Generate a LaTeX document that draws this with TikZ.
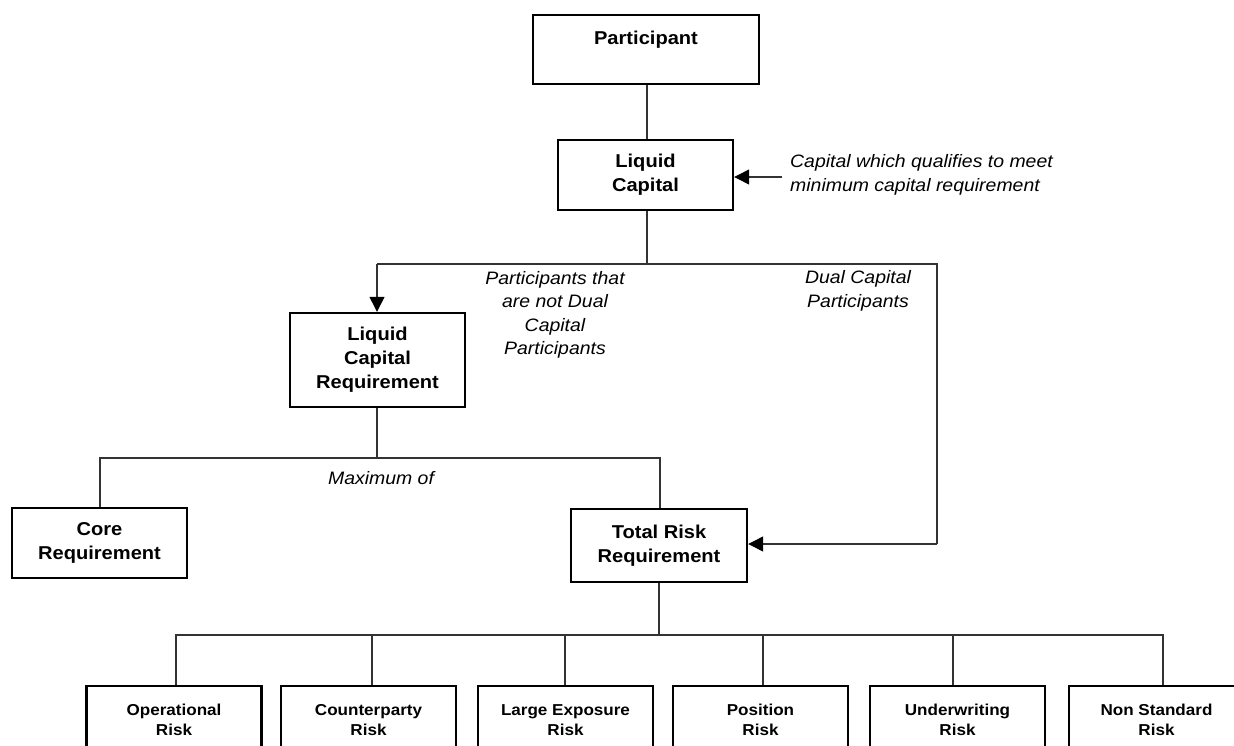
\documentclass[tikz,border=0pt]{standalone}
\usepackage{fontspec}
\setmainfont[FakeStretch=1.08]{Liberation Sans}
\usetikzlibrary{arrows.meta}
\begin{document}
\begin{tikzpicture}[x=1pt,y=-1pt,
  box/.style={draw=black,line width=2.4pt,minimum width=175pt,align=center,inner sep=0pt,
    font=\fontsize{18.6}{24}\selectfont\bfseries},
  smallbox/.style={box,minimum height=68pt,font=\fontsize{15.8}{20}\selectfont\bfseries},
  conn/.style={draw=black!80,line width=1.3pt},
  arr/.style={conn,-{Triangle[length=15pt,width=15pt,color=black]}},
  note/.style={font=\fontsize{18}{23.5}\selectfont\itshape,align=center,inner sep=0pt}]
\useasboundingbox (0,0) rectangle (1234,745);
\clip (0,0) rectangle (1234,745);
% boxes
\node[box,minimum width=226pt,minimum height=69pt] (part) at (646,49.5) {Participant\\[-7pt]\strut};
\node[box,minimum height=70pt] (lc) at (645.5,175) {Liquid\\Capital};
\node[box,minimum height=94pt] (lcr) at (377.5,360) {Liquid\\Capital\\Requirement};
\node[box,minimum height=70pt] (core) at (99.5,543) {Core\\Requirement};
\node[box,minimum width=176pt,minimum height=73pt] (trr) at (659,545.5) {Total Risk\\Requirement};
\node[smallbox] (op) at (174,720) {Operational\\Risk};
\node[smallbox] (cp) at (368.5,720) {Counterparty\\Risk};
\node[smallbox] (le) at (565.5,720) {Large Exposure\\Risk};
\node[smallbox] (pos) at (760.5,720) {Position\\Risk};
\node[smallbox] (uw) at (957.5,720) {Underwriting\\Risk};
\node[smallbox] (ns) at (1156.5,720) {Non Standard\\Risk};
% notes
\node[note,align=left,anchor=west] (capnote) at (790,175) {Capital which qualifies to meet\\minimum capital requirement};
\node[note] (notdual) at (555,315) {Participants that\\are not Dual\\Capital\\Participants};
\node[note] (dual) at (858,291) {Dual Capital\\Participants};
\node[note] (maxof) at (381,478) {Maximum of};
% coordinates
\coordinate (j1) at (647,264);
\coordinate (j1l) at (377,264);
\coordinate (j1r) at (937,264);
\coordinate (j1b) at (937,544);
\coordinate (capstart) at (782,177);
\coordinate (j2) at (377,458);
\coordinate (j2l) at (100,458);
\coordinate (j2r) at (660,458);
\coordinate (j3) at (659,635);
\coordinate (j3l) at (176,635);
\coordinate (j3r) at (1163,635);
% connectors
\draw[conn] (647,0 |- part.south) -- (647,0 |- lc.north);
\draw[arr] (capstart) -- (capstart -| lc.east);
\draw[conn] (647,0 |- lc.south) -- (j1);
\draw[conn] (j1l) -- (j1r) -- (j1b);
\draw[arr] (j1l) -- (j1l |- lcr.north);
\draw[arr] (j1b) -- (j1b -| trr.east);
\draw[conn] (377,0 |- lcr.south) -- (j2);
\draw[conn] (j2l |- core.north) -- (j2l) -- (j2r) -- (j2r |- trr.north);
\draw[conn] (trr.south) -- (j3);
\draw[conn] (j3l |- op.north) -- (j3l) -- (j3r) -- (j3r |- ns.north);
\draw[conn] (372,635) -- (372,0 |- cp.north);
\draw[conn] (565,635) -- (565,0 |- le.north);
\draw[conn] (763,635) -- (763,0 |- pos.north);
\draw[conn] (953,635) -- (953,0 |- uw.north);
\end{tikzpicture}
\end{document}
